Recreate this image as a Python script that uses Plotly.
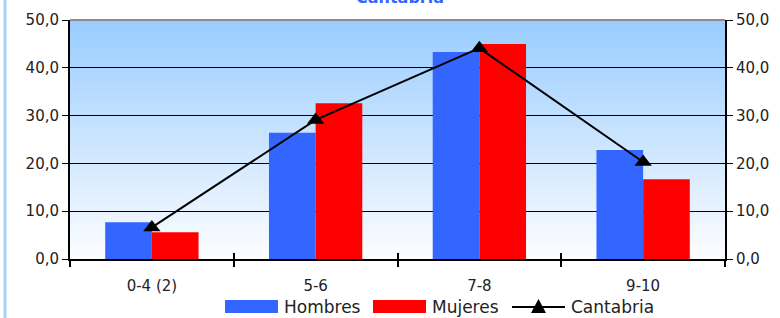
import plotly.graph_objects as go

categories = ["0-4 (2)", "5-6", "7-8", "9-10"]
hombres = [7.7, 26.4, 43.3, 22.8]
mujeres = [5.6, 32.6, 45.0, 16.7]
cantabria = [6.6, 29.1, 44.1, 20.3]
tick_vals = [0, 10, 20, 30, 40, 50]
series_names = ["Hombres", "Mujeres", "Cantabria"]
series_colors = ["#3366FF", "#FF0000", "black"]

FONT = "DejaVu Sans"
ML, MR, MT, MB = 70, 55, 20, 59
W, H = 780, 318
PW, PH = W - ML - MR, H - MT - MB


def px(x):
    return (x - ML) / PW


def py(y):
    return (H - MB - y) / PH


fig = go.Figure()
fig.add_trace(go.Bar(name=series_names[0], x=categories, y=hombres,
                     marker_color=series_colors[0], marker_line_width=0))
fig.add_trace(go.Bar(name=series_names[1], x=categories, y=mujeres,
                     marker_color=series_colors[1], marker_line_width=0))
fig.add_trace(go.Scatter(name=series_names[2], x=categories, y=cantabria, mode="lines+markers",
                         line=dict(color="black", width=2),
                         marker=dict(symbol="triangle-up", size=15, color="black")))
# invisible trace to activate the right axis and the inner x ticks
fig.add_trace(go.Scatter(x=categories, y=cantabria, xaxis="x2", yaxis="y2", showlegend=False,
                         mode="markers", marker=dict(opacity=0), hoverinfo="skip"))

# gradient background
shapes = []
n = 160
top = (0x99, 0xCC, 0xFF)
bot = (0xFC, 0xFD, 0xFF)
for i in range(n):
    t = i / (n - 1)
    c = tuple(int(round(top[k] + (bot[k] - top[k]) * t)) for k in range(3))
    shapes.append(dict(type="rect", xref="x domain", yref="y domain",
                       x0=0, x1=1, y0=1 - (i + 1.5) / n, y1=1 - i / n,
                       fillcolor="rgb(%d,%d,%d)" % c, line=dict(width=0), layer="below"))
# top border
shapes.append(dict(type="line", xref="x domain", yref="y domain", x0=0, x1=1, y0=1, y1=1,
                   line=dict(color="#8C8C8C", width=2)))
# left light-blue frame line
shapes.append(dict(type="line", xref="paper", yref="paper",
                   x0=px(5), x1=px(5), y0=py(H + 2), y1=py(-2),
                   line=dict(color="#A9D1F7", width=3)))

# custom legend (wide swatches like the original)
annotations = []
leg_y = 307
sw = [(225, 278), (373, 426), (512, 565)]
for i, name in enumerate(series_names):
    x0, x1 = sw[i]
    if i < 2:
        shapes.append(dict(type="rect", xref="paper", yref="paper",
                           x0=px(x0), x1=px(x1), y0=py(313), y1=py(300),
                           fillcolor=series_colors[i], line=dict(width=0)))
    else:
        shapes.append(dict(type="line", xref="paper", yref="paper",
                           x0=px(x0), x1=px(x1), y0=py(leg_y), y1=py(leg_y),
                           line=dict(color="black", width=2)))
        cx = (x0 + x1) / 2
        shapes.append(dict(type="path", xref="paper", yref="paper",
                           path="M %f %f L %f %f L %f %f Z" % (
                               px(cx), py(299), px(cx - 7.5), py(313), px(cx + 7.5), py(313)),
                           fillcolor="black", line=dict(width=0)))
    annotations.append(dict(text=name, xref="paper", yref="paper", x=px(x1 + 4), y=py(leg_y),
                            xanchor="left", yanchor="middle", showarrow=False,
                            font=dict(size=17, color="#222222", family=FONT)))

annotations.append(dict(text="<b>Cantabria</b>", xref="paper", yref="paper",
                        x=px(400), y=py(9), xanchor="center", yanchor="bottom",
                        showarrow=False, font=dict(size=16, color="#3366FF", family=FONT)))

fig.update_layout(
    width=W, height=H,
    margin=dict(l=ML, r=MR, t=MT, b=MB, autoexpand=False),
    paper_bgcolor="white", plot_bgcolor="rgba(0,0,0,0)",
    separators=",.",
    barmode="group", bargap=0.43, bargroupgap=0,
    font=dict(family=FONT, size=15, color="#222222"),
    showlegend=False,
    shapes=shapes,
    annotations=annotations,
    xaxis=dict(showline=True, linecolor="black", linewidth=2, ticks="outside",
               tickson="boundaries", ticklen=6, tickcolor="black", tickwidth=1.5,
               showgrid=False, ticklabelstandoff=12, tickfont=dict(size=15),
               automargin=False),
    xaxis2=dict(overlaying="x", anchor="y", side="bottom", type="category",
                categoryarray=categories, range=[-0.5, 3.5], ticks="inside",
                tickson="boundaries", ticklen=6, tickcolor="black", tickwidth=1.5,
                showticklabels=False, showgrid=False, showline=False, automargin=False),
    yaxis=dict(range=[0, 50], tickvals=tick_vals, tickformat=".1f", showline=True,
               linecolor="black", linewidth=2, ticks="outside", ticklen=6,
               tickcolor="black", showgrid=True, gridcolor="black", gridwidth=1,
               zeroline=False, tickfont=dict(size=15), automargin=False),
    yaxis2=dict(range=[0, 50], tickvals=tick_vals, tickformat=".1f", overlaying="y",
                anchor="x", side="right", showline=True, linecolor="black", linewidth=2,
                ticks="outside", ticklen=6, tickcolor="black", showgrid=False,
                zeroline=False, tickfont=dict(size=15), automargin=False),
)

fig.write_html("out.html", config={"displayModeBar": False},
               post_script="document.body.style.margin='0';document.body.style.overflow='hidden';")
